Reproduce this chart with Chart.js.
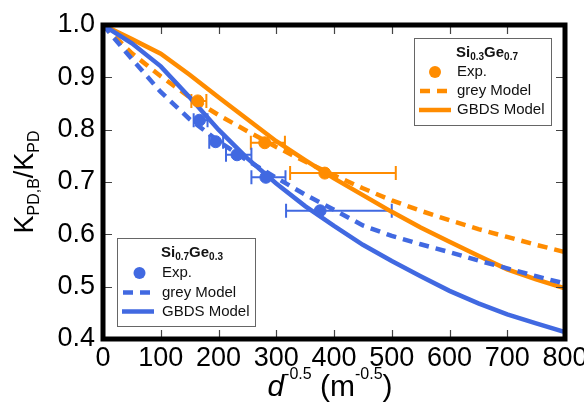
<!DOCTYPE html>
<html>
<head>
<meta charset="utf-8">
<script src="https://cdn.jsdelivr.net/npm/chart.js@4.4.1/dist/chart.umd.min.js"></script>
<style>
  html, body { margin: 0; padding: 0; background: #fff; }
  canvas { display: block; }
</style>
</head>
<body>
<canvas id="c" width="584" height="405"></canvas>
<script>
// ---- data ----
const modelX = [0, 50, 100, 150, 200, 250, 300, 350, 400, 450, 500, 550, 600, 650, 700, 750, 800];
const gbdsSiGe37 = [1.0, 0.973, 0.945, 0.905, 0.862, 0.820, 0.778, 0.742, 0.707, 0.675, 0.643, 0.613, 0.586, 0.559, 0.533, 0.514, 0.497];
const greySiGe37 = [1.0, 0.946, 0.902, 0.862, 0.828, 0.797, 0.767, 0.739, 0.713, 0.688, 0.665, 0.645, 0.627, 0.610, 0.595, 0.580, 0.566];
const gbdsSiGe73 = [1.0, 0.965, 0.921, 0.862, 0.800, 0.745, 0.697, 0.654, 0.616, 0.580, 0.549, 0.520, 0.492, 0.468, 0.447, 0.430, 0.413];
const greySiGe73 = [1.0, 0.935, 0.872, 0.820, 0.778, 0.741, 0.708, 0.676, 0.647, 0.617, 0.597, 0.581, 0.566, 0.550, 0.535, 0.520, 0.506];

const expX37 = [164, 280, 384];
const expY37 = [0.855, 0.775, 0.717];
const expXlo37 = [153, 256, 324];
const expXhi37 = [179, 315, 507];

const expX73 = [167, 195, 232, 282, 376];
const expY73 = [0.818, 0.777, 0.752, 0.709, 0.645];
const expXlo73 = [157, 184, 213, 257, 317];
const expXhi73 = [181, 208, 257, 316, 500];

const xTicks = [0, 100, 200, 300, 400, 500, 600, 700, 800];
const yTicks = [0.4, 0.5, 0.6, 0.7, 0.8, 0.9, 1.0];

const ORANGE = '#FF8C00';
const BLUE = '#4169E1';
const FONT = '"Liberation Sans", Arial, sans-serif';

const pts = (xs, ys) => xs.map((x, i) => ({ x: x, y: ys[i] }));

function drawRich(ctx, parts, x, y, align) {
  let w = 0;
  parts.forEach(p => { ctx.font = p.font; w += ctx.measureText(p.t).width + (p.gap || 0); });
  let cx = align === 'center' ? x - w / 2 : x;
  ctx.textAlign = 'left';
  ctx.textBaseline = 'alphabetic';
  parts.forEach(p => {
    ctx.font = p.font;
    ctx.fillText(p.t, cx, y + (p.dy || 0));
    cx += ctx.measureText(p.t).width + (p.gap || 0);
  });
}

const decor = {
  id: 'decor',
  beforeDatasetsDraw(chart) {
    const ctx = chart.ctx, xs = chart.scales.x, ys = chart.scales.y;
    ctx.save();
    ctx.lineWidth = 2;
    const bars = (xc, yv, lo, hi, col) => {
      ctx.strokeStyle = col;
      xc.forEach((_, i) => {
        const py = ys.getPixelForValue(yv[i]);
        const a = xs.getPixelForValue(lo[i]), b = xs.getPixelForValue(hi[i]);
        ctx.beginPath();
        ctx.moveTo(a, py); ctx.lineTo(b, py);
        ctx.moveTo(a, py - 7); ctx.lineTo(a, py + 7);
        ctx.moveTo(b, py - 7); ctx.lineTo(b, py + 7);
        ctx.stroke();
      });
    };
    bars(expX37, expY37, expXlo37, expXhi37, ORANGE);
    bars(expX73, expY73, expXlo73, expXhi73, BLUE);
    ctx.restore();
  },
  afterDraw(chart) {
    const ctx = chart.ctx, ca = chart.chartArea, xs = chart.scales.x, ys = chart.scales.y;
    ctx.save();
    // inner ticks
    ctx.strokeStyle = '#444';
    ctx.lineWidth = 1.2;
    ctx.beginPath();
    xTicks.forEach(v => {
      const px = Math.round(xs.getPixelForValue(v)) + 0.5;
      ctx.moveTo(px, ca.bottom); ctx.lineTo(px, ca.bottom - 9);
      ctx.moveTo(px, ca.top); ctx.lineTo(px, ca.top + 9);
    });
    yTicks.forEach(v => {
      const py = Math.round(ys.getPixelForValue(v)) + 0.5;
      ctx.moveTo(ca.left, py); ctx.lineTo(ca.left + 9, py);
      ctx.moveTo(ca.right, py); ctx.lineTo(ca.right - 9, py);
    });
    ctx.stroke();
    // frame
    ctx.strokeStyle = '#000';
    ctx.lineWidth = 5;
    ctx.strokeRect(ca.left, ca.top, ca.right - ca.left, ca.bottom - ca.top);

    // legends
    const legend = (bx, by, bw, bh, col, sub1, sub2, titleY, rowY, markX, lineX0, lineX1, textX) => {
      ctx.fillStyle = '#fff';
      ctx.fillRect(bx, by, bw, bh);
      ctx.strokeStyle = '#666';
      ctx.lineWidth = 1;
      ctx.strokeRect(bx + 0.5, by + 0.5, bw, bh);
      ctx.fillStyle = '#111';
      drawRich(ctx, [
        { t: 'Si', font: 'bold 15px ' + FONT },
        { t: sub1, font: 'bold 10px ' + FONT, dy: 3 },
        { t: 'Ge', font: 'bold 15px ' + FONT },
        { t: sub2, font: 'bold 10px ' + FONT, dy: 3 }
      ], textX + 30, titleY, 'center');
      // marker
      ctx.fillStyle = col;
      ctx.beginPath();
      ctx.arc(markX, rowY[0], 6, 0, Math.PI * 2);
      ctx.fill();
      // dashed
      ctx.strokeStyle = col;
      ctx.lineWidth = 4.5;
      ctx.setLineDash([10, 7]);
      ctx.beginPath();
      ctx.moveTo(lineX0 + 1, rowY[1]); ctx.lineTo(lineX1 - 4, rowY[1]);
      ctx.stroke();
      ctx.setLineDash([]);
      ctx.beginPath();
      ctx.moveTo(lineX0, rowY[2]); ctx.lineTo(lineX1, rowY[2]);
      ctx.stroke();
      ctx.fillStyle = '#111';
      ctx.font = '15px ' + FONT;
      ctx.textAlign = 'left';
      ctx.textBaseline = 'middle';
      ctx.fillText('Exp.', textX, rowY[0]);
      ctx.fillText('grey Model', textX, rowY[1]);
      ctx.fillText('GBDS Model', textX, rowY[2]);
    };
    legend(414, 38, 137, 87, ORANGE, '0.3', '0.7', 57, [72, 91, 110], 435, 419, 451, 457);
    legend(117, 238, 138, 88, BLUE, '0.7', '0.3', 257, [273, 292.5, 311.5], 139.5, 122, 154, 162);

    // axis titles
    ctx.fillStyle = '#000';
    drawRich(ctx, [
      { t: 'd', font: 'italic 30px ' + FONT },
      { t: '-0.5', font: '16px ' + FONT, dy: -17 },
      { t: ' (m', font: '30px ' + FONT },
      { t: '-0.5', font: '16px ' + FONT, dy: -17 },
      { t: ')', font: '30px ' + FONT }
    ], 330, 396, 'center');

    ctx.translate(33, 182);
    ctx.rotate(-Math.PI / 2);
    drawRich(ctx, [
      { t: 'K', font: '27px ' + FONT },
      { t: 'PD,B', font: '16px ' + FONT, dy: 6 },
      { t: '/K', font: '27px ' + FONT },
      { t: 'PD', font: '16px ' + FONT, dy: 6 }
    ], 0, 0, 'center');
    ctx.restore();
  }
};

const lineDs = (label, ys, col, dashed, order) => ({
  label: label, data: pts(modelX, ys), borderColor: col, borderWidth: 4.5,
  borderDash: dashed ? [10, 7] : [], pointRadius: 0, showLine: true, order: order
});

new Chart(document.getElementById('c'), {
  type: 'scatter',
  data: {
    datasets: [
      { label: 'Si0.3Ge0.7 Exp.', data: pts(expX37, expY37), backgroundColor: ORANGE, borderColor: ORANGE, pointRadius: 6, showLine: false, order: 1 },
      { label: 'Si0.7Ge0.3 Exp.', data: pts(expX73, expY73), backgroundColor: BLUE, borderColor: BLUE, pointRadius: 6, showLine: false, order: 2 },
      lineDs('Si0.3Ge0.7 grey Model', greySiGe37, ORANGE, true, 5),
      lineDs('Si0.3Ge0.7 GBDS Model', gbdsSiGe37, ORANGE, false, 6),
      lineDs('Si0.7Ge0.3 grey Model', greySiGe73, BLUE, true, 3),
      lineDs('Si0.7Ge0.3 GBDS Model', gbdsSiGe73, BLUE, false, 4)
    ]
  },
  options: {
    responsive: false,
    animation: false,
    devicePixelRatio: 1,
    layout: { padding: { top: 25, right: 19, left: 0, bottom: 0 } },
    plugins: { legend: { display: false }, tooltip: { enabled: false } },
    scales: {
      x: {
        type: 'linear', min: 0, max: 800,
        afterBuildTicks: s => { s.ticks = xTicks.map(v => ({ value: v })); },
        afterFit: s => { s.height = 66; s.paddingLeft = 0; s.paddingRight = 0; },
        grid: { display: false, drawTicks: false },
        border: { display: false },
        ticks: { font: { size: 27, family: FONT }, color: '#000', padding: 3, maxRotation: 0, autoSkip: false }
      },
      y: {
        type: 'linear', min: 0.4, max: 1.0,
        afterBuildTicks: s => { s.ticks = yTicks.map(v => ({ value: v })); },
        afterFit: s => { s.width = 103; s.paddingTop = 0; s.paddingBottom = 0; },
        grid: { display: false, drawTicks: false },
        border: { display: false },
        ticks: { font: { size: 27, family: FONT }, color: '#000', padding: 8, autoSkip: false,
                 callback: v => Number(v).toFixed(1) }
      }
    }
  },
  plugins: [decor]
});
</script>
</body>
</html>
